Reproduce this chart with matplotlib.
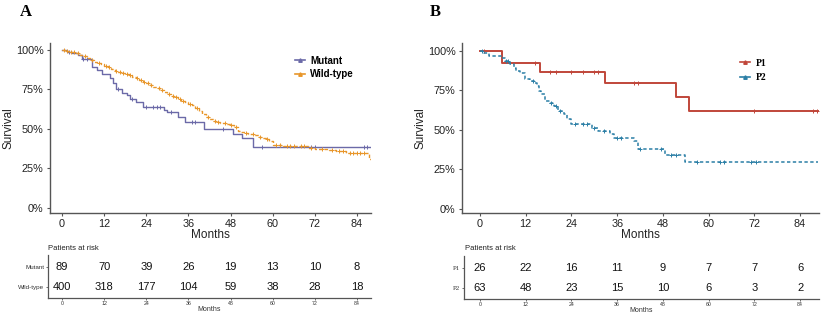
import numpy as np
import matplotlib
matplotlib.use("Agg")
import matplotlib.pyplot as plt
from matplotlib.ticker import FuncFormatter

plt.rcParams["font.family"] = ["Liberation Sans", "DejaVu Sans"]

# ---- Panel A data ----
mut_t = [0, 1.5, 3, 4.5, 5.8, 8.5, 10, 11.5, 13.7, 14.5, 15.5, 17, 18.5, 19.5, 21, 23,
         29, 30, 33, 35, 40.5, 48.7, 51.2, 54.4, 88]
mut_s = [100, 99, 98, 96.5, 94, 89, 87, 84.5, 82, 79, 75.5, 73, 71.5, 69, 67, 64,
         62, 60.5, 57.5, 54.5, 50, 47, 44.5, 38.8, 38.8]
mut_cens = [2, 6, 7, 16, 20, 24, 26, 27, 28, 31, 37, 38, 46, 57, 71, 72, 86, 87]

wt_t = [0, 1, 2, 3, 4, 5, 6, 7, 8, 9, 10, 11, 12, 13, 14, 15, 16, 17, 18, 19, 20,
        21, 22, 23, 24, 25, 26, 27, 28, 29, 30, 31, 32, 33, 34, 35, 36, 37, 38, 39,
        40, 41, 42, 43, 44, 45, 46, 47, 48, 49, 50, 51, 52, 53, 54, 55, 56, 57, 58,
        59, 60, 63, 67, 70, 72, 73, 76, 78, 81, 87.5, 88]
wt_s = [100, 99.5, 99, 98.5, 97.8, 97, 96, 95, 93.8, 92.6, 91.8, 91, 90, 89, 87.8,
        86.8, 86, 85.5, 85, 84, 83, 82, 81, 80, 79, 78, 76.8, 75.8, 74.7, 73.5, 72,
        71, 70, 69, 68, 67, 66, 65.2, 63.5, 61.5, 59.5, 57.5, 56, 55, 54.5, 54, 53.5,
        53, 52.4, 51.5, 48.5, 48, 47.5, 47, 46.5, 46, 45, 44, 43.5, 42.5, 40, 39.5,
        39, 38.2, 37.5, 37, 36.5, 36, 35, 31, 31]
wt_cens = [0.5, 1.5, 2.5, 3.5, 4.5, 6.5, 8.5, 10.5, 12.5, 13.5, 15.5, 16.5, 17.5,
           18.5, 19.5, 21.5, 22.5, 23.5, 24.5, 25.5, 27.5, 28.5, 30.5, 31.5, 32.5,
           33.5, 34.5, 36.5, 38.5, 41.5, 43.5, 44.5, 46.5, 48.2, 49.5, 52.5, 54.5,
           56.5, 58.5, 61, 62, 64, 65, 66, 68, 69, 71, 74, 77, 79, 80, 82, 83, 84,
           85, 86]

# ---- Panel B data ----
p1_t = [0, 5.7, 15.7, 32.8, 51.4, 54.9, 88.8]
p1_s = [100, 92.3, 86.8, 79.7, 70.8, 61.9, 61.9]
p1_cens = [1, 14.4, 18.5, 20, 24, 27, 30, 31, 40.5, 41.5, 72, 87.5, 88.5]

p2_t = [0, 1, 2.3, 5.7, 6.5, 8, 8.8, 9.5, 10.5, 11.8, 13, 14.5, 15, 15.5, 16, 17,
        18.5, 19.5, 20.5, 22, 22.8, 24, 29.5, 31, 34, 35.2, 40.5, 41.5, 48.5, 53.8,
        88.8]
p2_s = [100, 98.4, 96.8, 95.2, 93.6, 92, 88.9, 87.3, 85.7, 82.5, 81, 79.4, 77.8,
        74.6, 73, 68.3, 66.7, 65.1, 61.9, 60.3, 57.1, 54, 51, 49.3, 47.6, 44.5,
        42.7, 38, 34, 29.7, 29.7]
p2_cens = [0.5, 6.8, 7.3, 14, 18.7, 20, 21, 25, 27, 28, 30, 32.5, 36, 37, 42, 47.5,
           50, 51.5, 57, 63, 64, 71, 72.5]

months = [0, 12, 24, 36, 48, 60, 72, 84]
risk_mut = [89, 70, 39, 26, 19, 13, 10, 8]
risk_wt = [400, 318, 177, 104, 59, 38, 28, 18]
risk_p1 = [26, 22, 16, 11, 9, 7, 7, 6]
risk_p2 = [63, 48, 23, 15, 10, 6, 3, 2]

c_mut = "#6b6aa8"
c_wt = "#e8962a"
c_p1 = "#c0463a"
c_p2 = "#2b7fa6"
spine_c = "#555555"
W, H = 824, 320

fig = plt.figure(figsize=(W / 100, H / 100), dpi=100)


def box(x0, y0, x1, y1):
    # pixel box (top-left origin) -> figure fraction rect
    return [x0 / W, 1 - y1 / H, (x1 - x0) / W, (y1 - y0) / H]


def surv_at(t, ts, ss):
    i = np.searchsorted(ts, t, side="right") - 1
    return np.array(ss)[np.clip(i, 0, len(ss) - 1)]


def style_main(ax, xlim, ylim):
    ax.set_xlim(*xlim)
    ax.set_ylim(*ylim)
    for s in ["top", "right"]:
        ax.spines[s].set_visible(False)
    for s in ["left", "bottom"]:
        ax.spines[s].set_color(spine_c)
        ax.spines[s].set_linewidth(1.0)
    ax.set_xticks(months)
    ax.set_yticks([0, 25, 50, 75, 100])
    ax.yaxis.set_major_formatter(FuncFormatter(lambda v, p: f"{v:.0f}%"))
    ax.tick_params(length=2.5, width=0.8, color=spine_c, labelsize=7.8,
                   labelcolor="#222222", pad=2)
    ax.set_xlabel("Months", fontsize=8.5, labelpad=0, color="#222222")
    ax.set_ylabel("Survival", fontsize=8.5, labelpad=1, color="#222222")


def draw_curve(ax, ts, ss, cens, color, ls, lw, label):
    ax.step(ts, ss, where="post", color=color, ls=ls, lw=lw)
    ax.plot(cens, surv_at(cens, ts, ss), ls="none", marker="+", ms=3,
            mew=0.7, color=color)
    ax.plot([], [], color=color, ls="-", lw=1.2, marker="^", ms=2.5, label=label)


def risk_table(ax, xlim, rows, labels, label_font, label_size):
    ax.set_xlim(*xlim)
    ax.set_ylim(-0.552, 1.603)
    for s in ["top", "right"]:
        ax.spines[s].set_visible(False)
    for s in ["left", "bottom"]:
        ax.spines[s].set_color(spine_c)
        ax.spines[s].set_linewidth(0.9)
    for yv, vals in zip([1, 0], rows):
        for m, v in zip(months, vals):
            ax.text(m, yv, str(v), ha="center", va="center", fontsize=8,
                    color="#111111")
    ax.set_xticks(months)
    ax.set_yticks([1, 0])
    ax.set_yticklabels(labels, fontsize=label_size, family=label_font)
    ax.tick_params(axis="x", length=1.5, width=0.6, labelsize=3.8, pad=1,
                   color=spine_c, labelcolor="#333333")
    ax.tick_params(axis="y", length=1.5, width=0.6, pad=1, color=spine_c,
                   labelcolor="#333333")
    ax.set_xlabel("Months", fontsize=5, labelpad=0, color="#333333")


# ---- Panel A ----
axA = fig.add_axes(box(50, 43, 371, 213))
draw_curve(axA, mut_t, mut_s, mut_cens, c_mut, "-", 1.0, "Mutant")
draw_curve(axA, wt_t, wt_s, wt_cens, c_wt, (0, (2.5, 1.5)), 1.0, "Wild-type")
style_main(axA, (-3.4, 88.0), (-3.2, 104.4))
axA.legend(loc="upper left", bbox_to_anchor=(290 / W, 1 - 51 / H),
           bbox_transform=fig.transFigure, frameon=False, handlelength=1.0,
           handletextpad=0.6, labelspacing=0.35,
           prop={"size": 7, "weight": "bold"}, borderpad=0)

tA = fig.add_axes(box(48, 255, 371, 298))
risk_table(tA, (-3.99, 88.0), [risk_mut, risk_wt], ["Mutant", "Wild-type"],
           ["Liberation Sans", "DejaVu Sans"], 4.5)
fig.text(48 / W, 1 - 248 / H, "Patients at risk", fontsize=5.5, va="center",
         ha="left", color="#222222")

# ---- Panel B ----
axB = fig.add_axes(box(462, 43, 819, 213))
draw_curve(axB, p1_t, p1_s, p1_cens, c_p1, "-", 1.4, "P1")
draw_curve(axB, p2_t, p2_s, p2_cens, c_p2, (0, (2.2, 1.6)), 1.1, "P2")
style_main(axB, (-4.72, 88.97), (-2.7, 105.0))
axB.legend(loc="upper left", bbox_to_anchor=(735 / W, 1 - 54 / H),
           bbox_transform=fig.transFigure, frameon=False, handlelength=1.0,
           handletextpad=0.6, labelspacing=0.55,
           prop={"size": 7, "weight": "bold", "family": "Liberation Serif"},
           borderpad=0)

tB = fig.add_axes(box(464, 256, 819, 299))
risk_table(tB, (-4.2, 88.97), [risk_p1, risk_p2], ["P1", "P2"],
           ["Liberation Serif"], 5)
fig.text(465 / W, 1 - 249 / H, "Patients at risk", fontsize=5.5, va="center",
         ha="left", color="#222222")

# panel letters
fig.text(20 / W, 1 - 12 / H, "A", fontsize=12, fontweight="bold",
         family="Liberation Serif", va="center", ha="left")
fig.text(430 / W, 1 - 12 / H, "B", fontsize=12, fontweight="bold",
         family="Liberation Serif", va="center", ha="left")

fig.savefig("out.png", dpi=100)
